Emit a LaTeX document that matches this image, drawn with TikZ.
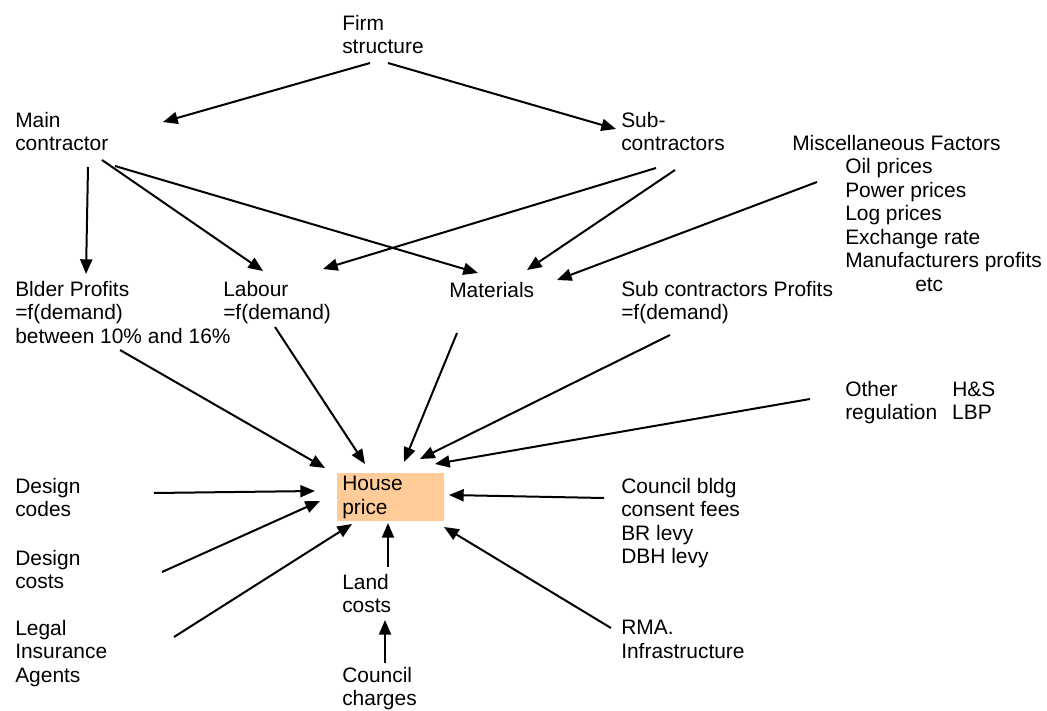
\documentclass[tikz,border=0pt]{standalone}
\usepackage{fontspec}
\setmainfont{Liberation Sans}
\usetikzlibrary{arrows.meta}
\definecolor{pricefill}{HTML}{FFCC99}
\tikzset{
  txt/.style={anchor=north west,inner sep=0pt,align=left,font=\fontsize{15.7}{17.6}\selectfont},
  pricebox/.style={txt,fill=pricefill,inner xsep=3.75pt,inner ysep=2.25pt,text width=72.75pt},
  arr/.style={-{Triangle[length=11pt,width=9pt]},line width=1.5pt},
}

\begin{document}
\begin{tikzpicture}[x=0.75pt,y=-0.75pt]
  \useasboundingbox (0,0) rectangle (1047,711);
  \node[txt] (firm) at (342,15) {Firm\\structure};
  \node[txt] (main) at (15,112) {Main\\contractor};
  \node[txt] (sub) at (621,112) {Sub-\\contractors};
  \node[txt] (misc) at (792,135) {Miscellaneous Factors\\
     \hspace*{39.75pt}Oil prices\\ \hspace*{39.75pt}Power prices\\
     \hspace*{39.75pt}Log prices\\ \hspace*{39.75pt}Exchange rate\\
     \hspace*{39.75pt}Manufacturers profits\\ \hspace*{92.25pt}etc};
  \node[txt] (blder) at (15,281) {Blder Profits\\=f(demand)\\between 10\% and 16\%};
  \node[txt] (labour) at (223,281) {Labour\\=f(demand)};
  \node[txt] (materials) at (449,282) {Materials};
  \node[txt] (subprof) at (621,281) {Sub contractors Profits\\=f(demand)};
  \node[txt] (other) at (845,381) {\makebox[80.25pt][l]{Other}H\&S\\
     \makebox[80.25pt][l]{regulation}LBP};
  \node[txt] (dcodes) at (15,478) {Design\\codes};
  \node[pricebox] (house) at (337,473) {House\\price};
  \node[txt] (council) at (621,478) {Council bldg\\consent fees\\BR levy\\DBH levy};
  \node[txt] (dcosts) at (15,550) {Design\\costs};
  \node[txt] (land) at (342,574) {Land\\costs};
  \node[txt] (legal) at (15,620) {Legal\\Insurance\\Agents};
  \node[txt] (rma) at (621,620) {RMA.\\Infrastructure};
  \node[txt] (charges) at (342,667) {Council\\charges};

  \draw[arr] ([shift={(28,48)}]firm.north west) -- ([shift={(148,10)}]main.north west);
  \draw[arr] ([shift={(46,48)}]firm.north west) -- ([shift={(-5,17)}]sub.north west);
  \draw[arr] ([shift={(73,55)}]main.north west) -- ([shift={(71,-7)}]blder.north west);
  \draw[arr] ([shift={(87,48)}]main.north west) -- ([shift={(40,-10)}]labour.north west);
  \draw[arr] ([shift={(100,54)}]main.north west) -- ([shift={(29,-9)}]materials.north west);
  \draw[arr] ([shift={(35,56)}]sub.north west) -- ([shift={(100,-12)}]labour.north west);
  \draw[arr] ([shift={(54,58)}]sub.north west) -- ([shift={(78,-12)}]materials.north west);
  \draw[arr] ([shift={(25,47)}]misc.north west) -- ([shift={(108,-2)}]materials.north west);

  \draw[arr] ([shift={(105,69)}]blder.north west) -- ([shift={(-12,-5)}]house.north west);
  \draw[arr] ([shift={(52,46)}]labour.north west) -- ([shift={(28,-9)}]house.north west);
  \draw[arr] ([shift={(8,51)}]materials.north west) -- ([shift={(67,-11)}]house.north west);
  \draw[arr] ([shift={(49,54)}]subprof.north west) -- ([shift={(83,-14)}]house.north west);
  \draw[arr] ([shift={(-35,18)}]other.north west) -- ([shift={(98,-9)}]house.north west);
  \draw[arr] ([shift={(139,15)}]dcodes.north west) -- ([shift={(-22,18)}]house.north west);
  \draw[arr] ([shift={(-17,20)}]council.north west) -- ([shift={(112,22)}]house.north west);
  \draw[arr] ([shift={(147,22)}]dcosts.north west) -- ([shift={(-17,28)}]house.north west);
  \draw[arr] ([shift={(159,17)}]legal.north west) -- ([shift={(15,51)}]house.north west);
  \draw[arr] ([shift={(46,-7)}]land.north west) -- ([shift={(51,50)}]house.north west);
  \draw[arr] ([shift={(-10,8)}]rma.north west) -- ([shift={(107,54)}]house.north west);
  \draw[arr] ([shift={(43,-4)}]charges.north west) -- ([shift={(43,46)}]land.north west);
\end{tikzpicture}
\end{document}
